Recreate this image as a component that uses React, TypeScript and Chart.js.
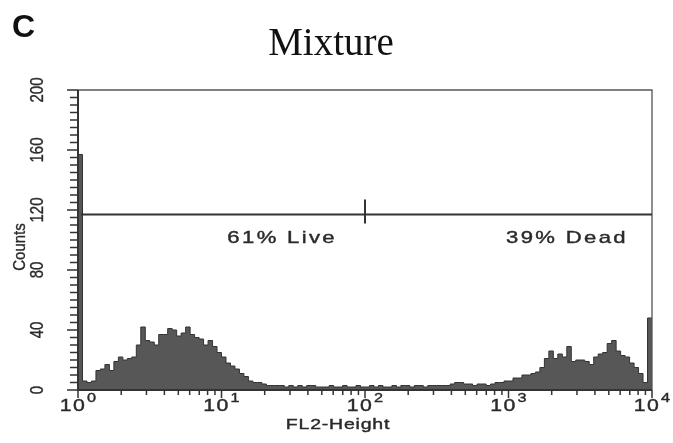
import { useEffect, useRef } from 'react';
import { Chart, registerables } from 'chart.js';

Chart.register(...registerables);

// ---- data ----
const panelLetter = 'C';
const chartTitle = 'Mixture';
const xAxisTitle = 'FL2-Height';
const yAxisTitle = 'Counts';

const binsPerDecade = 32;
const decades = 4;

// histogram counts, one per channel bin (128 bins over 4 decades)
const counts = [
  157, 6, 5, 6, 13, 14, 17, 13, 19, 22, 20, 21, 22, 30, 42, 33,
  32, 30, 37, 37, 41, 40, 36, 38, 42, 37, 35, 34, 30, 33, 29, 25,
  22, 18, 16, 14, 11, 9, 6, 5, 5, 4, 3, 3, 3, 3, 2, 3,
  2, 3, 2, 3, 3, 2, 2, 2, 3, 2, 2, 3, 2, 2, 3, 2,
  2, 3, 2, 3, 2, 2, 3, 2, 3, 3, 2, 3, 3, 2, 3, 3,
  3, 3, 3, 4, 5, 5, 4, 4, 3, 4, 4, 3, 4, 5, 5, 6,
  6, 8, 8, 10, 10, 11, 12, 15, 21, 26, 21, 24, 22, 29, 19, 20,
  20, 19, 17, 22, 24, 25, 31, 33, 26, 23, 22, 18, 15, 11, 5, 48,
];

const xMin = 1;
const xMax = 10000;
const xDecadeExponents = ['0', '1', '2', '3', '4'];
const xMinorMultipliers = [2, 3, 4, 5, 6, 7, 8, 9];

const yMin = 0;
const yMax = 200;
const yLabelValues = [0, 40, 80, 120, 160, 200];
const yMinorStep = 5;

const gateCount = 117;
const gateBounds = [1, 100, 10000];
const gateLabels = ['61% Live', '39% Dead'];

// ---- helpers ----
function drawText(
  ctx: CanvasRenderingContext2D,
  s: string,
  x: number,
  y: number,
  font: string,
  align: CanvasTextAlign,
  color: string,
  sx = 1,
  spacing = 0,
  rot = 0,
  baseline: CanvasTextBaseline = 'alphabetic',
  stroke = 0
) {
  ctx.save();
  ctx.translate(x, y);
  ctx.scale(sx, 1);
  if (rot) ctx.rotate(rot);
  ctx.font = font;
  ctx.fillStyle = color;
  ctx.textAlign = align;
  ctx.textBaseline = baseline;
  (ctx as any).letterSpacing = spacing + 'px';
  ctx.fillText(s, 0, 0);
  if (stroke > 0) {
    ctx.strokeStyle = color;
    ctx.lineWidth = stroke;
    ctx.strokeText(s, 0, 0);
  }
  ctx.restore();
}

const SANS = '"Liberation Sans", Arial, sans-serif';

const decorPlugin = {
  id: 'decor',
  afterDatasetsDraw(chart: any) {
    const { ctx, chartArea: a, scales } = chart;
    const xs = scales.x;
    const ys = scales.y;
    const axisColor = '#333';
    const textColor = '#2a2a2a';
    ctx.save();

    // frame
    ctx.strokeStyle = '#555';
    ctx.lineWidth = 1.3;
    ctx.beginPath();
    ctx.moveTo(a.left, a.top);
    ctx.lineTo(a.right, a.top);
    ctx.lineTo(a.right, a.bottom);
    ctx.stroke();
    ctx.strokeStyle = axisColor;
    ctx.lineWidth = 2;
    ctx.beginPath();
    ctx.moveTo(a.left, a.top);
    ctx.lineTo(a.left, a.bottom);
    ctx.lineTo(a.right, a.bottom);
    ctx.stroke();

    // x ticks
    ctx.lineWidth = 1.5;
    ctx.beginPath();
    for (let d = 0; d <= decades; d++) {
      const base = Math.pow(10, d);
      const px = xs.getPixelForValue(base);
      ctx.moveTo(px, a.bottom);
      ctx.lineTo(px, a.bottom + 8);
      if (d < decades) {
        for (const m of xMinorMultipliers) {
          const mx = xs.getPixelForValue(base * m);
          ctx.moveTo(mx, a.bottom);
          ctx.lineTo(mx, a.bottom + 5);
        }
      }
    }
    ctx.stroke();

    // x tick labels 10^n
    xDecadeExponents.forEach((e, d) => {
      const px = xs.getPixelForValue(Math.pow(10, d));
      drawText(ctx, '10', px + 8, a.bottom + 21, '17px ' + SANS, 'right', textColor, 1.25, 1, 0, 'alphabetic', 0.4);
      drawText(ctx, e, px + 9, a.bottom + 12, '13px ' + SANS, 'left', textColor, 1.25, 0, 0, 'alphabetic', 0.4);
    });

    // x title
    drawText(ctx, xAxisTitle, 338, a.bottom + 39, '15px ' + SANS, 'center', textColor, 1.3, 0.6, 0, 'alphabetic', 0.4);

    // y ticks
    ctx.beginPath();
    for (let v = yMin; v <= yMax; v += yMinorStep) {
      const py = ys.getPixelForValue(v);
      const major = yLabelValues.includes(v);
      ctx.moveTo(a.left, py);
      ctx.lineTo(a.left - (major ? 11 : 8), py);
    }
    ctx.stroke();

    // y labels (rotated)
    yLabelValues.forEach((v) => {
      const py = ys.getPixelForValue(v);
      drawText(ctx, String(v), a.left - 40, py, '15px ' + SANS, 'center', textColor, 1.2, 0, -Math.PI / 2, 'middle', 0.3);
    });
    drawText(ctx, yAxisTitle, 20, 247, '15px ' + SANS, 'center', textColor, 1.15, 0, -Math.PI / 2, 'middle', 0.3);

    // gate
    const gy = ys.getPixelForValue(gateCount);
    const g0 = xs.getPixelForValue(gateBounds[0]) + 3;
    const g1 = xs.getPixelForValue(gateBounds[1]);
    const g2 = xs.getPixelForValue(gateBounds[2]);
    ctx.strokeStyle = axisColor;
    ctx.lineWidth = 2;
    ctx.beginPath();
    ctx.moveTo(g0, gy);
    ctx.lineTo(g2, gy);
    ctx.moveTo(g1, gy - 15);
    ctx.lineTo(g1, gy + 9);
    ctx.stroke();
    drawText(ctx, gateLabels[0], g1 - 28, gy + 28, '17px ' + SANS, 'right', textColor, 1.3, 1.8, 0, 'alphabetic', 0.4);
    drawText(ctx, gateLabels[1], g2 - 24, gy + 28, '17px ' + SANS, 'right', textColor, 1.3, 1.8, 0, 'alphabetic', 0.4);

    // title & panel letter
    drawText(ctx, chartTitle, 331, 55, '39px "Liberation Serif", "Times New Roman", serif', 'center', '#111');
    drawText(ctx, panelLetter, 12, 37, 'bold 32px ' + SANS, 'left', '#111');

    ctx.restore();
  },
};

export default function App() {
  const ref = useRef<HTMLCanvasElement | null>(null);

  useEffect(() => {
    if (!ref.current) return;
    const points = counts.map((c, i) => ({ x: Math.pow(10, i / binsPerDecade), y: c }));
    points.push({ x: Math.pow(10, decades), y: counts[counts.length - 1] });

    const chart = new Chart(ref.current, {
      type: 'line',
      data: {
        datasets: [
          {
            data: points,
            stepped: true,
            fill: 'origin',
            backgroundColor: '#575757',
            borderColor: '#333',
            borderWidth: 1,
            pointRadius: 0,
          },
        ],
      },
      options: {
        animation: false,
        responsive: true,
        maintainAspectRatio: false,
        events: [],
        layout: { padding: { left: 0, right: 21, top: 90, bottom: 0 } },
        plugins: { legend: { display: false }, tooltip: { enabled: false }, title: { display: false } },
        scales: {
          x: {
            type: 'logarithmic',
            min: xMin,
            max: xMax,
            grid: { display: false },
            border: { display: false },
            ticks: { display: false },
            afterFit: (s: any) => { s.height = 53; },
          },
          y: {
            type: 'linear',
            min: yMin,
            max: yMax,
            grid: { display: false },
            border: { display: false },
            ticks: { display: false, stepSize: yMinorStep },
            afterFit: (s: any) => { s.width = 78; },
          },
        },
      },
      plugins: [decorPlugin],
    } as any);
    return () => chart.destroy();
  }, []);

  return (
    <div style={{ position: 'fixed', left: 0, top: 0, width: 673, height: 443, background: '#fff' }}>
      <canvas ref={ref} />
    </div>
  );
}
